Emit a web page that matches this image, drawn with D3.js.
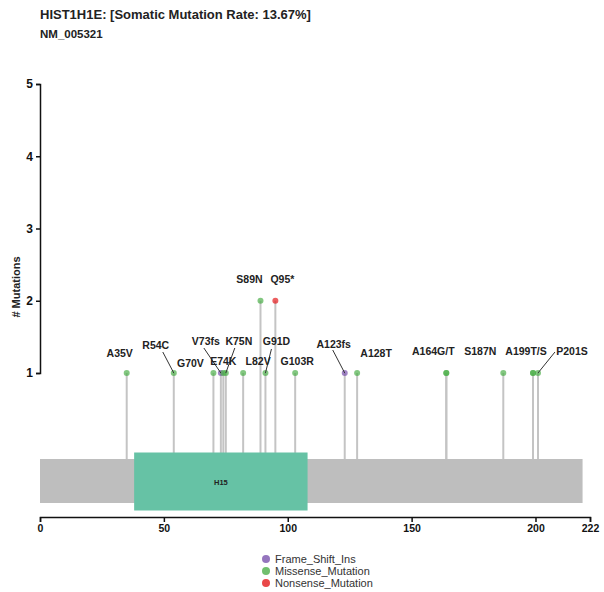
<!DOCTYPE html>
<html>
<head>
<meta charset="utf-8">
<script src="https://cdn.jsdelivr.net/npm/d3@7"></script>
<style>
  body { margin: 0; background: #fff; }
  text { font-family: "Liberation Sans", Arial, sans-serif; }
</style>
</head>
<body>
<svg id="canvas" width="604" height="592"></svg>
<script>
// protein and mutations
var proteinLength = 222;
var domainNames = ['H15'];
var domainStart = [38];
var domainEnd = [108];

var mutPos = [35, 54, 70, 73, 74, 75, 82, 89, 91, 95, 103, 123, 128, 164, 164, 187, 199, 199, 201];
var mutCount = [1, 1, 1, 1, 1, 1, 1, 2, 1, 2, 1, 1, 1, 1, 1, 1, 1, 1, 1];
var mutClass = ['Missense_Mutation', 'Missense_Mutation', 'Missense_Mutation', 'Frame_Shift_Ins',
    'Missense_Mutation', 'Missense_Mutation', 'Missense_Mutation', 'Missense_Mutation',
    'Missense_Mutation', 'Nonsense_Mutation', 'Missense_Mutation', 'Frame_Shift_Ins',
    'Missense_Mutation', 'Missense_Mutation', 'Missense_Mutation', 'Missense_Mutation',
    'Missense_Mutation', 'Missense_Mutation', 'Missense_Mutation'];

var labelText = ['A35V', 'R54C', 'G70V', 'V73fs', 'E74K', 'K75N', 'L82V', 'S89N', 'G91D', 'Q95*',
    'G103R', 'A123fs', 'A128T', 'A164G/T', 'S187N', 'A199T/S', 'P201S'];
var labelPos = [35, 54, 70, 73, 74, 75, 82, 89, 91, 95, 103, 123, 128, 164, 187, 199, 201];
var labelCount = [1, 1, 1, 1, 1, 1, 1, 2, 1, 2, 1, 1, 1, 1, 1, 1, 1];

var classNames = ['Frame_Shift_Ins', 'Missense_Mutation', 'Nonsense_Mutation'];
var classColors = ['#7b52ae', '#4daf4a', '#e41a1c'];

var yTicks = [1, 2, 3, 4, 5];
var xTicks = [0, 50, 100, 150, 200, 222];

// label layout: text offset from point [dx, dy], leader start [lx, ly] or null
var labelLayout = [
    [-7, -16, null], [-18, -24, [-11, -21]], [-23, -6, null], [-15, -28, [-17, -25]],
    [0, -8, null], [13, -28, [9, -25]], [15, -8, null], [-11, -18, null],
    [11, -28, [6, -24]], [7, -18, null], [2, -8, null], [-11, -25, [-12, -23]],
    [19, -16, null], [-13, -18, null], [-23, -18, null], [-7, -18, null],
    [34, -18, [17, -21]]
];

(function() {
    var svg = d3.select('#canvas');
    var color = d3.scaleOrdinal().domain(classNames).range(classColors);

    var x = d3.scaleLinear().domain([0, proteinLength]).range([40, 590]);
    var y = d3.scaleLinear().domain([1, 5]).range([373, 84]);

    var protTop = 459, protBottom = 503;

    // title
    svg.append('text')
        .attr('x', 40).attr('y', 19)
        .attr('font-size', '13px').attr('font-weight', 'bold').attr('fill', '#222')
        .text('HIST1H1E: [Somatic Mutation Rate: 13.67%]');
    svg.append('text')
        .attr('x', 40).attr('y', 38)
        .attr('font-size', '11.5px').attr('font-weight', 'bold').attr('fill', '#222')
        .text('NM_005321');

    // stems
    svg.append('g').selectAll('line')
        .data(mutPos)
        .enter().append('line')
        .attr('x1', function(d) { return x(d); })
        .attr('x2', function(d) { return x(d); })
        .attr('y1', function(d, i) { return y(mutCount[i]); })
        .attr('y2', protTop)
        .attr('stroke', '#c4c4c4')
        .attr('stroke-width', 2);

    // protein body
    svg.append('rect')
        .attr('x', x(0)).attr('y', protTop)
        .attr('width', x(219) - x(0)).attr('height', protBottom - protTop)
        .attr('fill', '#bebebe');

    // domains
    var dom = svg.append('g').selectAll('g')
        .data(domainNames)
        .enter().append('g');
    dom.append('rect')
        .attr('x', function(d, i) { return x(domainStart[i]); })
        .attr('y', 452.5)
        .attr('width', function(d, i) { return x(domainEnd[i]) - x(domainStart[i]); })
        .attr('height', 58)
        .attr('fill', '#66c2a5');
    dom.append('text')
        .attr('x', function(d, i) { return x((domainStart[i] + domainEnd[i]) / 2); })
        .attr('y', 484.5)
        .attr('text-anchor', 'middle')
        .attr('font-size', '7.5px').attr('font-weight', 'bold').attr('fill', '#222')
        .text(function(d) { return d; });

    // points
    svg.append('g').selectAll('circle')
        .data(mutPos)
        .enter().append('circle')
        .attr('cx', function(d) { return x(d); })
        .attr('cy', function(d, i) { return y(mutCount[i]); })
        .attr('r', 3)
        .attr('fill', function(d, i) { return color(mutClass[i]); })
        .attr('fill-opacity', 0.7);

    // labels
    var idx = d3.range(labelText.length);
    svg.append('g').selectAll('line')
        .data(idx.filter(function(i) { return labelLayout[i][2]; }))
        .enter().append('line')
        .attr('x1', function(i) { return x(labelPos[i]); })
        .attr('y1', function(i) { return y(labelCount[i]); })
        .attr('x2', function(i) { return x(labelPos[i]) + labelLayout[i][2][0]; })
        .attr('y2', function(i) { return y(labelCount[i]) + labelLayout[i][2][1]; })
        .attr('stroke', '#333')
        .attr('stroke-width', 1);
    svg.append('g').selectAll('text')
        .data(idx)
        .enter().append('text')
        .attr('x', function(i) { return x(labelPos[i]) + labelLayout[i][0]; })
        .attr('y', function(i) { return y(labelCount[i]) + labelLayout[i][1]; })
        .attr('text-anchor', 'middle')
        .attr('font-size', '10.5px').attr('font-weight', 'bold').attr('fill', '#222')
        .text(function(i) { return labelText[i]; });

    // y axis
    var yAxis = svg.append('g')
        .attr('transform', 'translate(40,0)')
        .call(d3.axisLeft(y).tickValues(yTicks).tickFormat(d3.format('d')).tickSize(4).tickSizeOuter(4));
    yAxis.selectAll('path, line').attr('stroke', '#111').attr('stroke-width', 1.5);
    yAxis.selectAll('text')
        .attr('font-size', '12px').attr('font-weight', 'bold').attr('fill', '#111')
        .attr('font-family', '"Liberation Sans", Arial, sans-serif');

    svg.append('text')
        .attr('transform', 'translate(20,287) rotate(-90)')
        .attr('text-anchor', 'middle')
        .attr('font-size', '11px').attr('font-weight', 'bold').attr('fill', '#222')
        .text('# Mutations');

    // x axis
    var xAxis = svg.append('g')
        .attr('transform', 'translate(0,517)')
        .call(d3.axisBottom(x).tickValues(xTicks).tickFormat(d3.format('d')).tickSize(5).tickSizeOuter(5));
    xAxis.selectAll('path, line').attr('stroke', '#111').attr('stroke-width', 1.5);
    xAxis.selectAll('text')
        .attr('font-size', '10.5px').attr('font-weight', 'bold').attr('fill', '#111')
        .attr('font-family', '"Liberation Sans", Arial, sans-serif');

    // legend
    var leg = svg.append('g').selectAll('g')
        .data(classNames)
        .enter().append('g')
        .attr('transform', function(d, i) { return 'translate(266,' + (559 + i * 12) + ')'; });
    leg.append('circle')
        .attr('r', 4)
        .attr('fill', function(d) { return color(d); })
        .attr('fill-opacity', 0.8);
    leg.append('text')
        .attr('x', 9).attr('y', 4)
        .attr('font-size', '11px').attr('fill', '#333')
        .text(function(d) { return d; });
})();
</script>
</body>
</html>
